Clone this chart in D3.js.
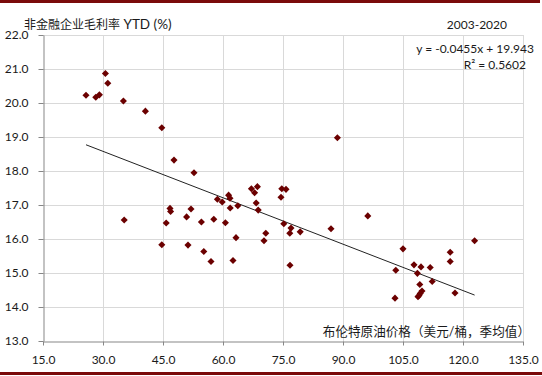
<!DOCTYPE html>
<html lang="zh">
<head>
  <meta charset="UTF-8" />
  <title>非金融企业毛利率 vs 布伦特原油价格</title>
  <script src="https://d3js.org/d3.v7.min.js"></script>
  <style>
    body {
      margin: 0;
      background: #fff;
      font-family: Lato, "Noto Sans CJK SC", sans-serif;
    }
    svg text {
      fill: #1a1a1a;
      font-size: 12px;
    }
    .grid line {
      stroke: #d9d9d9;
      stroke-width: 1;
    }
    .axis path, .axis line {
      stroke: #878787;
    }
    .trend {
      fill: none;
      stroke: #222;
      stroke-width: 1;
    }
  </style>
</head>
<body>
<svg width="542" height="376"></svg>

<script>
  // brent price (USD/bbl, quarterly avg) vs non-financial gross margin YTD (%)
  const oilPrice = [
    25.75, 28.2, 29.1, 30.6, 31.2, 35.1, 40.6, 44.7, 47.75, 52.75, 58.6,
    46.75, 46.9, 52, 50.9, 35.3, 45.8, 54.6, 57.7, 44.7, 51.25, 55.2, 57,
    59.8, 61.4, 61.75, 61.8, 63.7, 60.6, 63.25, 62.5, 67.1, 68.6, 67.9, 68.3,
    68.8, 70.7, 70.25, 74.7, 75.75, 74.5, 75.2, 77, 76.7, 79.3, 76.75, 87,
    88.6, 96.2, 105, 103.2, 107.75, 109.5, 111.8, 108.6, 116.8, 116.8, 122.9,
    112.3, 109.2, 118, 103, 109.75, 109.3, 109, 108.75
  ];
  const grossMargin = [
    20.23, 20.17, 20.24, 20.87, 20.58, 20.06, 19.76, 19.27, 18.32, 17.95, 17.17,
    16.90, 16.81, 16.88, 16.65, 16.56, 16.47, 16.5, 16.58, 15.83, 15.82, 15.63, 15.34,
    17.09, 17.29, 17.20, 16.91, 16.98, 16.48, 16.04, 15.37, 17.48, 17.54, 17.36, 17.06,
    16.85, 16.17, 15.95, 17.48, 17.46, 17.23, 16.45, 16.32, 16.17, 16.21, 15.23, 16.30,
    18.98, 16.68, 15.71, 15.08, 15.24, 15.18, 15.16, 14.99, 15.61, 15.34, 15.95,
    14.75, 14.66, 14.41, 14.26, 14.47, 14.40, 14.34, 14.30
  ];
  const xTicks = [15, 30, 45, 60, 75, 90, 105, 120, 135];
  const yTicks = [13, 14, 15, 16, 17, 18, 19, 20, 21, 22];
  const slope = -0.0455, intercept = 19.943, rSquared = "0.5602";

  const data = oilPrice.map((x, i) => ({x: x, y: grossMargin[i]}));

  const svg = d3.select("svg"),
        margin = {top: 35, right: 19, bottom: 35, left: 43},
        width = +svg.attr("width") - margin.left - margin.right,
        height = +svg.attr("height") - margin.top - margin.bottom;

  // dark red rules at top and bottom
  svg.append("rect").attr("x", 0).attr("y", 0).attr("width", 540).attr("height", 3).attr("fill", "#7a0a0a");
  svg.append("rect").attr("x", 0).attr("y", 372).attr("width", 542).attr("height", 3).attr("fill", "#7a0a0a");

  const g = svg.append("g").attr("transform", `translate(${margin.left},${margin.top})`);

  const x = d3.scaleLinear().domain([15, 135]).range([0, width]);
  const y = d3.scaleLinear().domain([13, 22]).range([height, 0]);

  // gridlines
  g.append("g").attr("class", "grid")
    .selectAll("line").data(xTicks.slice(1)).join("line")
    .attr("x1", d => x(d) + 0.5).attr("x2", d => x(d) + 0.5)
    .attr("y1", 0).attr("y2", height);
  g.append("g").attr("class", "grid")
    .selectAll("line").data(yTicks.slice(1)).join("line")
    .attr("x1", 0).attr("x2", width)
    .attr("y1", d => y(d) + 0.5).attr("y2", d => y(d) + 0.5);

  const xAxis = g.append("g").attr("class", "axis")
    .attr("transform", `translate(0,${height + 0.5})`)
    .call(d3.axisBottom(x).tickValues(xTicks).tickFormat(d3.format(".1f")).tickSize(4).tickSizeOuter(0).tickPadding(10));
  const yAxis = g.append("g").attr("class", "axis")
    .attr("transform", "translate(0.5,0)")
    .call(d3.axisLeft(y).tickValues(yTicks).tickFormat(d3.format(".1f")).tickSize(5).tickSizeOuter(0).tickPadding(10));
  g.selectAll(".axis text").attr("font-size", 12).attr("font-family", "Lato, sans-serif").attr("fill", "#1a1a1a");
  yAxis.selectAll("text").attr("x", -15);

  // trend line over the data range
  const xExt = d3.extent(oilPrice);
  g.append("path")
    .datum(xExt.map(v => ({x: v, y: slope * v + intercept})))
    .attr("class", "trend")
    .attr("d", d3.line().x(d => x(d.x)).y(d => y(d.y)));

  // diamonds
  g.selectAll(".pt").data(data).join("path")
    .attr("class", "pt")
    .attr("transform", d => `translate(${x(d.x)},${y(d.y)}) rotate(45)`)
    .attr("d", d3.symbol(d3.symbolSquare, 25))
    .attr("fill", "#6b0000");

  // texts
  const title = svg.append("text").attr("x", 24).attr("y", 29);
  title.append("tspan").text("非金融企业毛利率");
  title.append("tspan").style("font-size", "13.5px").text(" YTD (%)");
  svg.append("text").attr("x", 507).attr("y", 29).attr("text-anchor", "end").text("2003-2020");
  svg.append("text").attr("x", 534).attr("y", 53).attr("text-anchor", "end")
    .text(`y = ${slope}x + ${intercept}`);
  svg.append("text").attr("x", 526).attr("y", 69).attr("text-anchor", "end")
    .text(`R² = ${rSquared}`);
  svg.append("text").attr("x", 530).attr("y", 336).attr("text-anchor", "end")
    .style("font-size", "12.6px")
    .text("布伦特原油价格（美元/桶，季均值）");
</script>

</body>
</html>
